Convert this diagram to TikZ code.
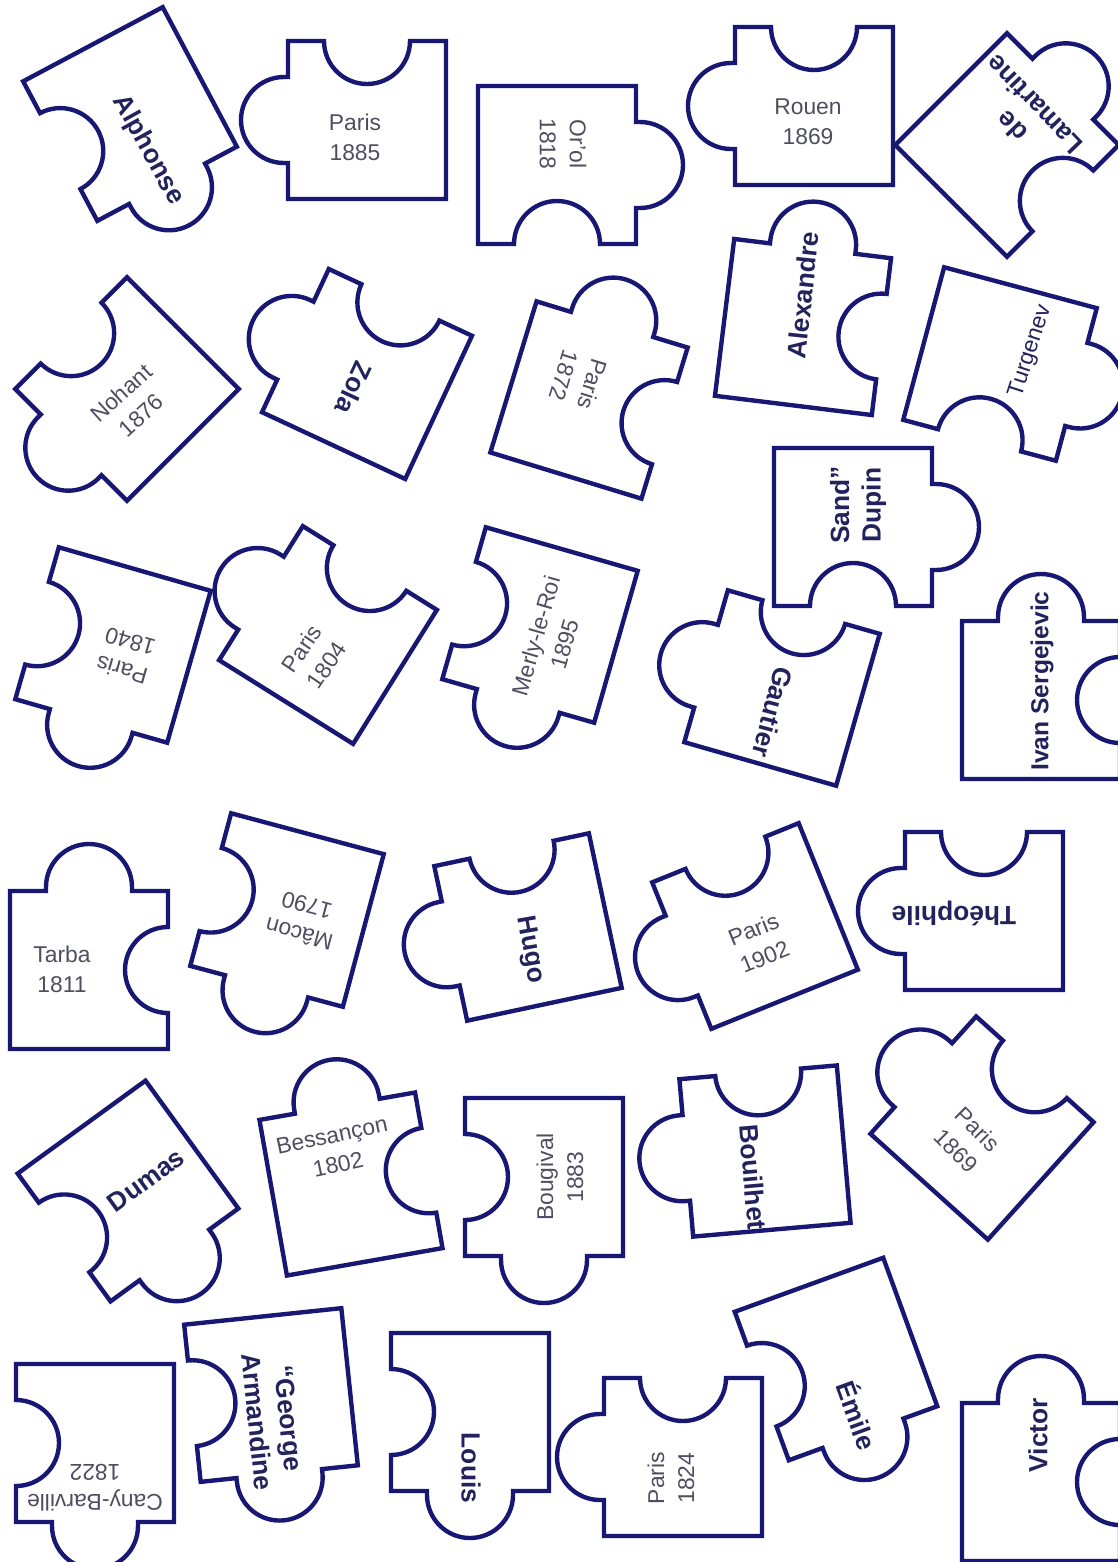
\documentclass[tikz,border=0pt]{standalone}
\usepackage{fontspec}
\setmainfont{Liberation Sans}
\usepackage{tikz}
\definecolor{inkblue}{RGB}{24,24,116}
\definecolor{placegrey}{RGB}{78,78,96}
\definecolor{namenavy}{RGB}{34,34,92}

% one corner piece: notch on top, tab on the left, turned by #3
\newcommand{\jigsaw}[3]{%
  \draw[piece, shift={(#1,-#2)}, rotate=#3]
    (79,-79) -- (79,79) -- (43,79)
    arc[start angle=0, end angle=-180, radius=43]
    -- (-79,79) -- (-79,43) -- (-83,43)
    arc[start angle=90, end angle=270, radius=43]
    -- (-79,-43) -- (-79,-79) -- cycle;}

\begin{document}
\begin{tikzpicture}[x=0.02cm, y=0.02cm,
    piece/.style={draw=inkblue, line width=2.5pt, line join=miter},
    where/.style={font=\fontsize{13}{17}\selectfont, text=placegrey, align=center, inner sep=0pt},
    who/.style={font=\fontsize{15}{18}\selectfont\bfseries, text=namenavy, align=center, inner sep=0pt}]
    \useasboundingbox (0,0) rectangle (1118,-1562);
    \clip (0,0) rectangle (1118,-1562);

    % first row
    \jigsaw{130}{114}{118}
    \node[who, rotate=-61] (alphonse) at (148,-150) {Alphonse};
    \jigsaw{367}{120}{0}
    \node[where] (paris1885) at (355,-137) {Paris\\1885};
    \jigsaw{557}{165}{180}
    \node[where, rotate=-90] (orol) at (563,-144) {Or'ol\\1818};
    \jigsaw{814}{106}{0}
    \node[where] (rouen) at (808,-122) {Rouen\\1869};
    \jigsaw{1007}{145}{-135}
    \node[who, rotate=134] (lamartine) at (1023,-116) {de\\Lamartine};

    % second row
    \jigsaw{127}{389}{45}
    \node[where, rotate=42] (nohant) at (131,-404) {Nohant\\1876};
    \jigsaw{367}{374}{-25}
    \node[who, rotate=-115] (zola) at (354,-388) {Zola};
    \jigsaw{589}{400}{-107}
    \node[where, rotate=-107] (paris1872) at (578,-380) {Paris\\1872};
    \jigsaw{803}{327}{-97}
    \node[who, rotate=84] (alexandre) at (803,-295) {Alexandre};
    \jigsaw{1000}{364}{165}
    \node[where, text=namenavy, rotate=72] (turgenev) at (1031,-351) {Turgenev};

    % third row
    \jigsaw{853}{527}{180}
    \node[who, rotate=90] (dupin) at (858,-505) {Sand”\\Dupin};
    \jigsaw{113}{645}{74}
    \node[where, rotate=164] (paris1840) at (126,-656) {Paris\\1840};
    \jigsaw{328}{635}{-32}
    \node[where, rotate=56] (paris1804) at (314,-657) {Paris\\1804};
    \jigsaw{540}{625}{74}
    \node[where, rotate=74] (merly) at (550,-640) {Merly-le-Roi\\1895};
    \jigsaw{782}{688}{-16}
    \node[who, rotate=-105] (gautier) at (773,-712) {Gautier};
    \jigsaw{1041}{700}{-90}
    \node[who, font=\fontsize{14}{17}\selectfont\bfseries, rotate=90] (ivan) at (1042,-681) {Ivan Sergejevic};

    % fourth row
    \jigsaw{89}{970}{-90}
    \node[where] (tarba) at (62,-969) {Tarba\\1811};
    \jigsaw{287}{910}{75}
    \node[where, rotate=165] (macon) at (303,-920) {Mâcon\\1790};
    \jigsaw{528}{927}{12}
    \node[who, rotate=-80] (hugo) at (530,-950) {Hugo};
    \jigsaw{755}{926}{22}
    \node[where, rotate=22] (paris1902) at (759,-943) {Paris\\1902};
    \jigsaw{984}{911}{0}
    \node[who, rotate=180] (theophile) at (954,-913) {Théophile};

    % fifth row
    \jigsaw{128}{1191}{126}
    \node[who, rotate=36] (dumas) at (146,-1180) {Dumas};
    \jigsaw{351}{1184}{-80}
    \node[where, rotate=12] (bessancon) at (335,-1150) {Bessançon\\1802};
    \jigsaw{544}{1177}{90}
    \node[where, rotate=90] (bougival) at (560,-1177) {Bougival\\1883};
    \jigsaw{765}{1151}{5}
    \node[who, rotate=-85] (bouilhet) at (753,-1177) {Bouilhet};
    \jigsaw{982}{1128}{-42}
    \node[where, rotate=-45] (paris1869) at (967,-1140) {Paris\\1869};

    % last row
    \jigsaw{95}{1443}{90}
    \node[where, rotate=180] (cany) at (95,-1488) {Cany-Barville\\1822};
    \jigsaw{271}{1395}{96}
    \node[who, rotate=-84] (george) at (273,-1420) {“George\\Armandine};
    \jigsaw{470}{1412}{90}
    \node[who, rotate=-90] (louis) at (471,-1468) {Louis};
    \jigsaw{683}{1457}{0}
    \node[where, rotate=90] (paris1824) at (671,-1478) {Paris\\1824};
    \jigsaw{836}{1359}{110}
    \node[who, rotate=-70] (emile) at (858,-1415) {Émile};
    \jigsaw{1041}{1482}{-90}
    \node[who, rotate=90] (victor) at (1038,-1435) {Victor};
\end{tikzpicture}
\end{document}
